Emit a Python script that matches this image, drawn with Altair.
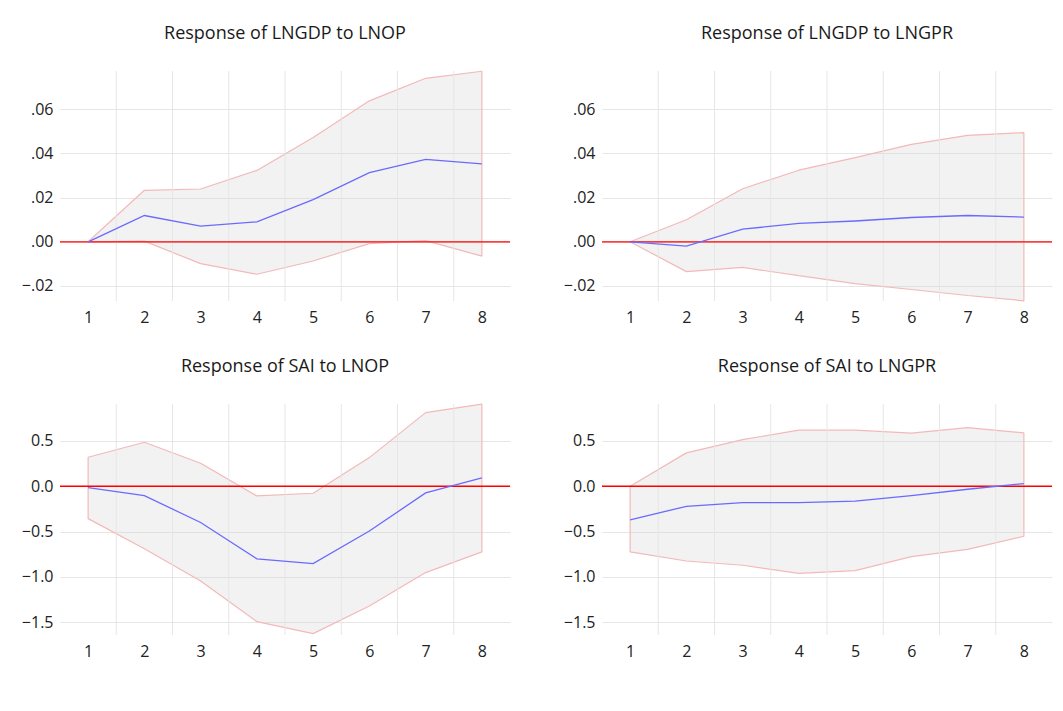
import altair as alt
import pandas as pd

periods = [1, 2, 3, 4, 5, 6, 7, 8]
grid_x = [1.5, 2.5, 3.5, 4.5, 5.5, 6.5, 7.5]

titles = ["Response of LNGDP to LNOP", "Response of LNGDP to LNGPR",
          "Response of SAI to LNOP", "Response of SAI to LNGPR"]

gdp_op_resp = [0.0, 0.0119, 0.0071, 0.0090, 0.0191, 0.0313, 0.0373, 0.0353]
gdp_op_upper = [0.0, 0.0233, 0.0239, 0.0323, 0.0472, 0.0638, 0.0740, 0.0772]
gdp_op_lower = [0.0, 0.0003, -0.0099, -0.0147, -0.0087, -0.0008, 0.0005, -0.0065]

gdp_gpr_resp = [0.0, -0.0020, 0.0057, 0.0083, 0.0094, 0.0110, 0.0119, 0.0112]
gdp_gpr_upper = [0.0, 0.0100, 0.0240, 0.0324, 0.0381, 0.0441, 0.0482, 0.0494]
gdp_gpr_lower = [0.0, -0.0135, -0.0116, -0.0153, -0.0189, -0.0216, -0.0243, -0.0267]

sai_op_resp = [-0.015, -0.103, -0.40, -0.80, -0.853, -0.493, -0.074, 0.092]
sai_op_upper = [0.32, 0.485, 0.254, -0.107, -0.077, 0.316, 0.812, 0.905]
sai_op_lower = [-0.357, -0.688, -1.044, -1.493, -1.625, -1.32, -0.952, -0.724]

sai_gpr_resp = [-0.371, -0.221, -0.180, -0.180, -0.165, -0.103, -0.033, 0.029]
sai_gpr_upper = [0.0, 0.368, 0.515, 0.618, 0.618, 0.585, 0.647, 0.588]
sai_gpr_lower = [-0.724, -0.824, -0.871, -0.960, -0.930, -0.776, -0.695, -0.551]

top_domain = [-0.0268, 0.0773]
top_ticks = [-0.02, 0.0, 0.02, 0.04, 0.06]
bot_domain = [-1.64, 0.907]
bot_ticks = [-1.5, -1.0, -0.5, 0.0, 0.5]
zero_line = [0.0]

W = 450
FONT = "Open Sans"


def panel(title, resp, lower, upper, ydomain, yticks, label_expr, h):
    df = pd.DataFrame({"period": periods, "resp": resp, "lower": lower, "upper": upper})
    xscale = alt.Scale(domain=[0.5, 8.5], nice=False, zero=False)
    yscale = alt.Scale(domain=ydomain, nice=False, zero=False)
    xaxis = alt.Axis(values=periods, format="d", grid=False, ticks=False, domain=False,
                     labelFontSize=16, labelPadding=8, title=None, labelFlush=False,
                     labelOverlap=False, labelColor="#222222", labelFont=FONT)
    yaxis = alt.Axis(values=yticks, labelExpr=label_expr, grid=True, gridColor="#e6e6e6",
                     gridWidth=1, ticks=False, domain=False, labelPadding=7,
                     minExtent=52, maxExtent=52, title=None, labelFontSize=16,
                     labelColor="#222222", labelFont=FONT)

    band = alt.Chart(df).mark_area(
        fill="#d0d0d0", fillOpacity=0.27, stroke="#f3b9b9", strokeWidth=1.2,
        strokeJoin="bevel"
    ).encode(
        x=alt.X("period:Q", scale=xscale, axis=xaxis),
        y=alt.Y("lower:Q", scale=yscale, axis=yaxis),
        y2="upper:Q"
    )
    vgrid = alt.Chart(pd.DataFrame({"period": grid_x})).mark_rule(
        color="#e6e6e6", strokeWidth=1
    ).encode(
        x=alt.X("period:Q", scale=xscale),
        y=alt.value(0), y2=alt.value(h)
    )
    zero = alt.Chart(pd.DataFrame({"lower": zero_line})).mark_rule(
        color="#ff0000", strokeWidth=1.3
    ).encode(y=alt.Y("lower:Q", scale=yscale))
    line = alt.Chart(df).mark_line(color="#6a6aff", strokeWidth=1.3).encode(
        x=alt.X("period:Q", scale=xscale),
        y=alt.Y("resp:Q", scale=yscale)
    )
    return alt.layer(band, vgrid, zero, line).properties(
        width=W, height=h,
        title=alt.TitleParams(title, fontSize=18, font=FONT, fontWeight="normal",
                              color="#1a1a1a", anchor="middle", baseline="alphabetic",
                              offset=14)
    )


top_expr = "replace(format(datum.value, '.2f'), '0.', '.')"
bot_expr = "format(datum.value, '.1f')"

p1 = panel(titles[0], gdp_op_resp, gdp_op_lower, gdp_op_upper, top_domain, top_ticks, top_expr, 230)
p2 = panel(titles[1], gdp_gpr_resp, gdp_gpr_lower, gdp_gpr_upper, top_domain, top_ticks, top_expr, 230)
p3 = panel(titles[2], sai_op_resp, sai_op_lower, sai_op_upper, bot_domain, bot_ticks, bot_expr, 231)
p4 = panel(titles[3], sai_gpr_resp, sai_gpr_lower, sai_gpr_upper, bot_domain, bot_ticks, bot_expr, 231)

chart = alt.vconcat(
    alt.hconcat(p1, p2, spacing=39),
    alt.hconcat(p3, p4, spacing=39),
    spacing=32
).properties(
    padding={"top": 16, "left": 0, "right": 0, "bottom": 12}
).configure(background="white", view=alt.ViewConfig(stroke=None))

chart.save("out.html", embed_options={"renderer": "svg", "actions": False})
